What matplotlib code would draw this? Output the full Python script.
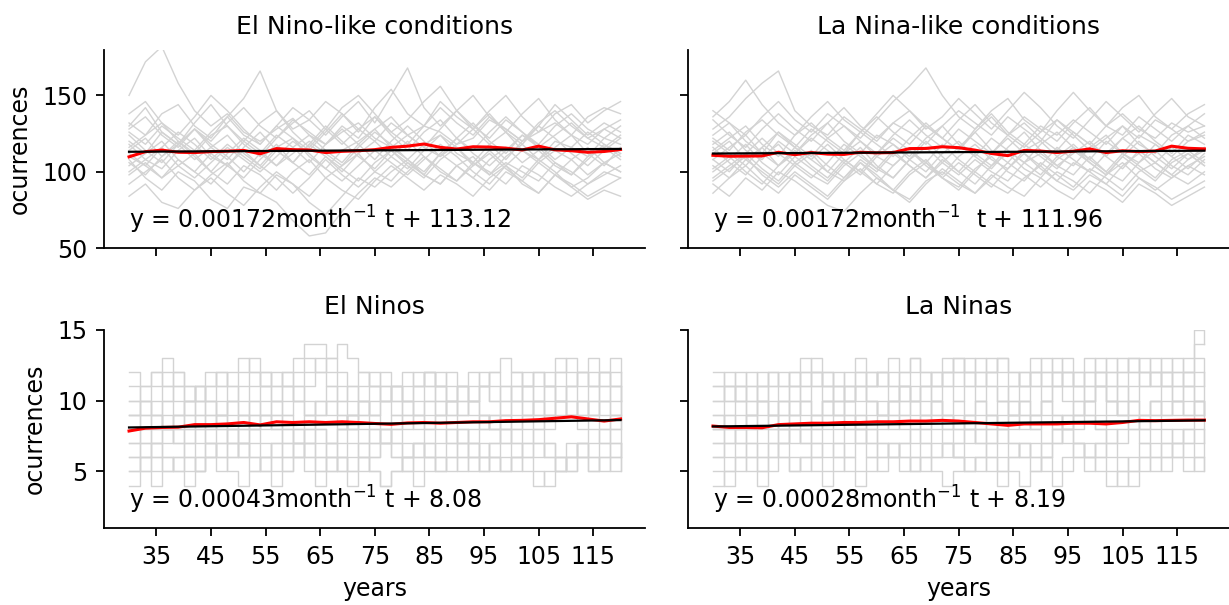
import matplotlib
matplotlib.use("Agg")
import matplotlib.pyplot as plt
import matplotlib.transforms as mtransforms
import numpy as np

plt.rcParams['font.family'] = ['DejaVu Sans']

# x positions (years) for sampled series
years3 = np.arange(30, 121, 3)   # 31 points, top panels + red means
years2 = np.arange(30, 121, 2)   # 46 points, event counts

# ---- El Nino-like conditions: ensemble members (grey) ----
elnino_like_members = [
    [150, 172, 182, 158, 140, 130, 138, 126, 120, 128, 135, 124, 118, 126, 132, 122, 116, 124, 130, 126, 118, 122, 134, 128, 120, 126, 132, 124, 118, 128, 122],
    [120, 112, 126, 118, 108, 116, 124, 112, 104, 116, 122, 110, 102, 114, 120, 128, 116, 108, 118, 124, 112, 106, 118, 126, 114, 108, 120, 116, 110, 122, 118],
    [98, 106, 96, 104, 112, 100, 92, 104, 98, 88, 100, 108, 96, 104, 112, 100, 94, 106, 98, 92, 104, 110, 98, 106, 100, 94, 106, 100, 92, 98, 104],
    [132, 124, 138, 144, 130, 122, 136, 148, 166, 140, 128, 134, 146, 138, 126, 142, 154, 138, 130, 146, 136, 128, 140, 150, 136, 126, 138, 144, 132, 140, 146],
    [108, 96, 88, 100, 94, 82, 76, 90, 86, 98, 92, 80, 72, 84, 96, 90, 100, 108, 98, 92, 104, 96, 88, 100, 94, 86, 98, 92, 84, 90, 96],
    [114, 122, 110, 118, 128, 116, 108, 120, 112, 104, 116, 124, 114, 106, 118, 128, 136, 124, 116, 110, 122, 132, 120, 112, 124, 118, 108, 116, 126, 118, 110],
    [126, 118, 130, 122, 114, 126, 136, 124, 118, 130, 122, 114, 126, 138, 128, 120, 132, 124, 116, 128, 140, 130, 122, 134, 126, 118, 130, 138, 128, 122, 130],
    [92, 100, 108, 96, 88, 98, 106, 94, 86, 80, 68, 58, 60, 74, 86, 96, 90, 100, 110, 102, 94, 106, 100, 92, 104, 98, 90, 84, 92, 100, 96],
    [138, 146, 132, 124, 136, 150, 140, 128, 118, 130, 142, 134, 124, 136, 146, 132, 150, 168, 142, 130, 140, 150, 136, 126, 138, 148, 134, 124, 136, 142, 138],
    [104, 112, 120, 108, 100, 112, 104, 96, 108, 118, 106, 98, 110, 102, 94, 106, 114, 104, 96, 108, 116, 104, 112, 102, 94, 106, 114, 108, 98, 106, 112],
    [118, 108, 102, 114, 122, 110, 104, 116, 126, 114, 106, 118, 110, 100, 112, 120, 110, 102, 114, 124, 116, 106, 98, 110, 118, 108, 116, 124, 112, 104, 116],
    [84, 92, 80, 76, 88, 96, 86, 78, 90, 100, 92, 84, 96, 88, 82, 94, 104, 96, 88, 98, 92, 84, 96, 104, 92, 86, 98, 90, 82, 88, 84],
    [128, 136, 124, 116, 128, 120, 132, 142, 130, 122, 134, 126, 118, 130, 122, 136, 126, 118, 130, 142, 132, 124, 136, 128, 120, 132, 140, 130, 122, 128, 134],
    [110, 104, 116, 126, 118, 108, 118, 110, 102, 114, 106, 118, 130, 120, 110, 102, 114, 106, 98, 112, 104, 96, 108, 116, 106, 114, 104, 98, 110, 116, 108],
    [116, 124, 132, 120, 112, 124, 130, 118, 110, 122, 132, 140, 128, 118, 128, 136, 124, 114, 126, 134, 122, 114, 126, 136, 126, 116, 124, 132, 122, 116, 124],
    [100, 108, 116, 104, 96, 106, 116, 108, 100, 110, 120, 112, 102, 94, 104, 114, 106, 98, 108, 118, 110, 100, 92, 104, 114, 106, 98, 108, 116, 106, 100],
    [124, 114, 106, 118, 128, 118, 110, 100, 112, 124, 116, 106, 118, 128, 118, 108, 120, 130, 120, 110, 118, 128, 118, 108, 120, 130, 122, 112, 104, 114, 122],
    [106, 98, 110, 120, 110, 100, 112, 122, 114, 104, 112, 120, 112, 104, 116, 126, 118, 108, 100, 112, 122, 112, 104, 114, 124, 116, 106, 98, 108, 118, 112],
    [130, 142, 126, 118, 132, 144, 130, 120, 132, 140, 126, 116, 128, 142, 150, 138, 126, 134, 146, 156, 140, 128, 138, 126, 118, 130, 144, 134, 124, 132, 126],
    [112, 104, 96, 108, 100, 92, 104, 114, 104, 96, 86, 96, 108, 98, 90, 100, 110, 120, 110, 100, 94, 104, 114, 104, 96, 108, 100, 90, 96, 106, 100],
]

# ---- La Nina-like conditions ----
lanina_like_members = [
    [128, 136, 148, 158, 166, 140, 130, 124, 136, 128, 120, 132, 126, 118, 130, 140, 132, 124, 136, 128, 120, 134, 126, 118, 130, 138, 128, 122, 132, 126, 130],
    [104, 96, 108, 100, 92, 104, 112, 100, 94, 106, 98, 88, 100, 108, 96, 90, 102, 110, 100, 94, 106, 98, 90, 102, 96, 88, 100, 106, 98, 92, 100],
    [118, 126, 114, 108, 120, 112, 124, 132, 120, 112, 124, 118, 110, 122, 130, 118, 110, 122, 114, 106, 118, 126, 116, 108, 120, 112, 124, 118, 110, 120, 124],
    [92, 84, 96, 88, 100, 94, 86, 78, 74, 86, 96, 88, 82, 94, 100, 92, 86, 98, 90, 84, 96, 88, 82, 94, 88, 80, 92, 86, 78, 84, 90],
    [140, 132, 124, 136, 146, 134, 126, 138, 130, 122, 134, 146, 156, 168, 150, 136, 128, 140, 148, 134, 126, 140, 152, 140, 130, 142, 150, 136, 128, 138, 144],
    [112, 120, 108, 116, 104, 112, 122, 114, 106, 98, 110, 118, 108, 100, 112, 120, 110, 102, 114, 106, 98, 110, 118, 108, 100, 112, 104, 96, 108, 114, 106],
    [100, 108, 118, 106, 98, 110, 102, 94, 106, 116, 104, 96, 108, 120, 110, 100, 112, 104, 116, 126, 114, 104, 112, 120, 110, 102, 114, 106, 98, 108, 116],
    [122, 114, 126, 134, 124, 116, 128, 120, 112, 126, 136, 126, 118, 130, 122, 114, 128, 138, 126, 118, 130, 124, 134, 126, 118, 130, 122, 134, 128, 120, 126],
    [86, 96, 104, 94, 86, 98, 90, 82, 94, 102, 92, 86, 98, 106, 96, 88, 100, 92, 86, 96, 104, 94, 88, 98, 92, 84, 96, 90, 82, 88, 94],
    [134, 124, 116, 128, 138, 128, 120, 132, 142, 130, 122, 132, 140, 130, 122, 134, 144, 132, 124, 136, 128, 120, 132, 142, 130, 124, 136, 128, 120, 130, 138],
    [108, 116, 124, 112, 104, 116, 108, 100, 112, 120, 110, 104, 114, 106, 98, 110, 118, 108, 102, 114, 120, 110, 104, 116, 124, 112, 106, 118, 110, 102, 112],
    [116, 106, 98, 110, 118, 106, 98, 92, 104, 112, 102, 96, 108, 116, 106, 98, 108, 100, 94, 106, 112, 104, 98, 110, 100, 94, 106, 114, 104, 98, 108],
    [96, 104, 112, 102, 94, 106, 114, 104, 96, 108, 100, 112, 104, 96, 108, 100, 92, 104, 112, 102, 96, 108, 116, 106, 98, 110, 102, 94, 106, 112, 104],
    [124, 132, 120, 112, 126, 118, 110, 122, 130, 120, 112, 124, 134, 124, 116, 128, 120, 112, 124, 132, 122, 114, 126, 118, 110, 122, 130, 120, 112, 124, 118],
    [114, 122, 130, 118, 110, 124, 132, 122, 114, 126, 118, 110, 122, 132, 122, 114, 126, 136, 124, 116, 126, 134, 124, 114, 122, 130, 118, 112, 124, 130, 122],
    [102, 110, 100, 92, 104, 114, 104, 96, 108, 100, 92, 104, 114, 104, 96, 106, 98, 90, 102, 112, 102, 94, 106, 100, 92, 104, 112, 102, 96, 104, 110],
    [120, 112, 104, 116, 126, 116, 108, 118, 108, 100, 112, 122, 114, 106, 118, 108, 100, 112, 122, 112, 104, 116, 108, 100, 112, 122, 114, 106, 116, 108, 114],
    [108, 100, 112, 122, 112, 104, 96, 106, 118, 110, 102, 114, 104, 96, 106, 116, 126, 114, 106, 118, 110, 102, 114, 106, 98, 110, 120, 110, 102, 112, 104],
    [136, 146, 160, 144, 132, 124, 136, 146, 134, 126, 138, 150, 140, 128, 136, 148, 138, 128, 140, 152, 142, 130, 122, 134, 146, 136, 126, 138, 148, 136, 130],
    [94, 102, 110, 98, 90, 100, 92, 84, 96, 106, 96, 88, 80, 92, 102, 94, 86, 96, 106, 98, 90, 100, 94, 86, 98, 106, 96, 88, 96, 104, 98],
]

# ---- El Nino event counts ----
elninos_members = [
    [8, 9, 8, 10, 9, 8, 9, 10, 11, 10, 9, 10, 11, 10, 9, 8, 9, 10, 9, 8, 9, 10, 11, 10, 9, 8, 9, 10, 9, 10, 11, 10, 9, 8, 9, 10, 11, 10, 9, 10, 11, 12, 11, 10, 9, 10],
    [6, 7, 6, 5, 6, 7, 8, 7, 6, 7, 6, 5, 6, 7, 6, 7, 8, 7, 6, 5, 6, 7, 6, 7, 8, 7, 6, 7, 8, 7, 6, 5, 6, 7, 8, 7, 6, 7, 6, 5, 6, 7, 8, 7, 6, 7],
    [12, 11, 12, 13, 12, 11, 10, 11, 12, 11, 12, 13, 12, 11, 12, 13, 14, 14, 13, 14, 13, 12, 11, 12, 11, 10, 11, 12, 11, 12, 11, 10, 11, 12, 13, 12, 11, 12, 11, 12, 13, 12, 11, 12, 13, 12],
    [4, 5, 4, 5, 6, 5, 6, 7, 6, 5, 4, 5, 6, 5, 6, 7, 6, 5, 6, 5, 4, 5, 6, 7, 6, 5, 4, 5, 6, 5, 6, 7, 6, 5, 6, 5, 6, 5, 4, 5, 6, 7, 6, 5, 6, 5],
    [10, 9, 10, 11, 10, 9, 8, 9, 10, 9, 8, 9, 10, 9, 10, 11, 10, 9, 10, 9, 8, 9, 10, 11, 10, 9, 10, 11, 10, 9, 10, 9, 8, 9, 10, 11, 10, 9, 10, 11, 10, 9, 10, 11, 10, 11],
    [7, 8, 9, 8, 7, 8, 7, 8, 9, 8, 7, 8, 9, 8, 7, 6, 7, 8, 7, 8, 9, 8, 7, 8, 7, 6, 7, 8, 9, 8, 7, 8, 9, 8, 7, 8, 9, 8, 9, 10, 9, 8, 9, 8, 9, 8],
    [9, 10, 11, 12, 11, 10, 11, 12, 11, 12, 13, 12, 11, 12, 11, 10, 11, 12, 13, 12, 11, 12, 11, 10, 11, 12, 11, 12, 11, 10, 11, 12, 11, 12, 11, 12, 11, 10, 11, 12, 11, 12, 13, 12, 11, 12],
    [5, 6, 7, 6, 5, 6, 5, 6, 7, 8, 7, 6, 5, 4, 5, 6, 5, 4, 5, 6, 7, 6, 5, 4, 5, 6, 7, 6, 5, 6, 5, 6, 7, 6, 5, 6, 7, 6, 7, 6, 5, 6, 5, 6, 7, 6],
    [8, 7, 8, 9, 8, 9, 10, 9, 8, 7, 8, 9, 8, 9, 8, 7, 8, 9, 10, 9, 8, 9, 8, 7, 8, 9, 8, 9, 10, 9, 8, 7, 8, 9, 8, 9, 10, 9, 8, 9, 10, 9, 10, 9, 8, 9],
    [11, 10, 9, 10, 11, 10, 11, 10, 9, 10, 11, 12, 11, 10, 11, 12, 13, 12, 11, 10, 11, 10, 9, 10, 11, 10, 11, 12, 11, 10, 11, 10, 11, 10, 9, 10, 11, 12, 11, 10, 11, 10, 11, 12, 11, 10],
    [6, 5, 6, 7, 8, 7, 6, 7, 8, 7, 6, 7, 6, 7, 8, 7, 6, 5, 6, 7, 8, 7, 8, 7, 6, 5, 6, 7, 6, 7, 8, 7, 6, 7, 8, 7, 8, 7, 6, 5, 6, 7, 6, 7, 8, 7],
    [9, 8, 7, 8, 9, 10, 9, 8, 9, 8, 9, 10, 9, 8, 9, 10, 9, 8, 7, 8, 9, 10, 9, 8, 9, 10, 9, 8, 9, 10, 9, 10, 9, 8, 9, 8, 9, 10, 9, 10, 9, 10, 9, 10, 9, 10],
    [10, 11, 12, 11, 12, 11, 10, 11, 12, 11, 10, 11, 12, 11, 12, 11, 12, 13, 12, 11, 10, 11, 12, 11, 10, 11, 12, 11, 12, 11, 10, 11, 12, 11, 10, 11, 12, 11, 12, 13, 12, 11, 12, 11, 12, 11],
    [7, 6, 7, 8, 7, 6, 5, 6, 7, 6, 7, 8, 7, 6, 7, 8, 7, 6, 7, 6, 5, 6, 7, 8, 7, 6, 7, 6, 7, 8, 7, 6, 5, 6, 7, 6, 7, 8, 7, 6, 7, 6, 7, 8, 7, 6],
    [9, 10, 9, 8, 9, 10, 11, 10, 9, 10, 9, 8, 9, 10, 11, 10, 9, 10, 11, 10, 9, 10, 9, 10, 11, 10, 9, 10, 11, 10, 9, 10, 11, 10, 11, 10, 9, 10, 11, 10, 9, 10, 9, 10, 11, 10],
    [5, 6, 5, 6, 5, 4, 5, 6, 5, 6, 7, 6, 5, 6, 5, 6, 7, 6, 5, 6, 5, 6, 5, 4, 5, 6, 5, 6, 5, 6, 7, 6, 5, 6, 5, 6, 5, 4, 5, 6, 5, 6, 5, 6, 5, 6],
]

# ---- La Nina event counts ----
laninas_members = [
    [8, 9, 10, 9, 8, 9, 10, 9, 10, 11, 10, 9, 10, 9, 8, 9, 10, 11, 10, 9, 10, 9, 10, 11, 10, 9, 8, 9, 10, 9, 10, 11, 10, 9, 10, 11, 10, 9, 10, 9, 10, 11, 10, 11, 10, 9],
    [6, 5, 6, 7, 6, 7, 6, 5, 6, 7, 8, 7, 6, 7, 6, 5, 6, 7, 6, 7, 8, 7, 6, 5, 6, 7, 6, 7, 6, 5, 6, 7, 8, 7, 6, 7, 6, 5, 6, 7, 8, 7, 6, 7, 6, 7],
    [12, 11, 10, 11, 12, 11, 12, 11, 12, 13, 12, 11, 12, 13, 12, 11, 12, 11, 10, 11, 12, 13, 12, 13, 12, 13, 12, 11, 12, 11, 12, 13, 12, 11, 12, 13, 12, 11, 12, 13, 12, 13, 12, 13, 14, 14],
    [4, 5, 6, 5, 4, 5, 6, 5, 6, 5, 4, 5, 6, 5, 6, 7, 6, 5, 6, 5, 6, 7, 6, 5, 6, 5, 4, 5, 4, 5, 6, 5, 6, 7, 6, 5, 4, 5, 4, 5, 6, 5, 6, 5, 6, 5],
    [10, 11, 10, 9, 10, 9, 10, 11, 10, 9, 10, 11, 10, 11, 10, 9, 10, 11, 12, 11, 10, 11, 10, 9, 10, 11, 10, 9, 10, 11, 10, 11, 12, 11, 10, 11, 10, 11, 10, 11, 12, 11, 10, 11, 10, 11],
    [7, 8, 7, 8, 9, 8, 7, 8, 7, 8, 9, 8, 9, 8, 7, 8, 9, 8, 7, 8, 9, 8, 9, 8, 7, 8, 7, 8, 9, 8, 7, 8, 9, 8, 9, 8, 7, 8, 9, 8, 9, 8, 7, 8, 9, 8],
    [11, 12, 11, 10, 11, 12, 11, 12, 11, 12, 11, 10, 11, 12, 11, 12, 11, 12, 13, 12, 11, 12, 13, 12, 11, 12, 13, 12, 11, 12, 13, 12, 11, 12, 13, 12, 11, 12, 13, 12, 13, 12, 11, 12, 13, 12],
    [5, 4, 5, 6, 5, 6, 7, 6, 5, 6, 5, 6, 5, 4, 5, 6, 7, 6, 5, 6, 5, 4, 5, 6, 5, 6, 5, 6, 7, 6, 5, 4, 5, 6, 5, 6, 5, 4, 5, 6, 5, 6, 7, 6, 5, 6],
    [9, 8, 9, 8, 7, 8, 9, 10, 9, 8, 9, 10, 9, 8, 9, 10, 9, 10, 9, 8, 9, 8, 7, 8, 9, 8, 9, 10, 9, 8, 9, 8, 9, 10, 9, 8, 9, 10, 9, 8, 9, 10, 9, 10, 9, 10],
    [8, 7, 8, 9, 10, 9, 8, 9, 10, 9, 10, 9, 10, 11, 10, 9, 10, 9, 8, 9, 10, 9, 8, 9, 8, 9, 10, 9, 8, 9, 10, 9, 8, 9, 10, 11, 10, 9, 10, 9, 10, 9, 10, 9, 10, 9],
    [6, 7, 8, 7, 6, 7, 8, 7, 8, 7, 6, 7, 8, 7, 8, 7, 6, 7, 8, 7, 6, 7, 6, 7, 8, 7, 8, 7, 6, 7, 6, 7, 8, 7, 6, 7, 8, 7, 8, 7, 6, 7, 8, 7, 8, 7],
    [10, 11, 12, 11, 10, 11, 10, 11, 12, 11, 12, 11, 10, 11, 12, 11, 10, 11, 10, 11, 12, 11, 12, 11, 12, 11, 10, 11, 12, 13, 12, 11, 12, 11, 12, 11, 12, 13, 12, 11, 12, 11, 12, 11, 12, 11],
    [9, 10, 11, 10, 11, 10, 9, 10, 11, 12, 11, 10, 11, 10, 11, 12, 11, 10, 11, 10, 11, 12, 13, 12, 11, 12, 11, 10, 11, 12, 11, 12, 11, 10, 11, 12, 11, 10, 11, 12, 11, 12, 11, 12, 11, 12],
    [7, 6, 7, 6, 5, 6, 7, 8, 7, 6, 7, 6, 7, 8, 7, 6, 7, 6, 5, 6, 7, 6, 7, 8, 7, 6, 5, 6, 7, 6, 7, 8, 7, 6, 7, 6, 7, 6, 5, 6, 7, 6, 7, 8, 7, 8],
    [8, 9, 8, 9, 10, 9, 8, 9, 8, 9, 10, 9, 8, 9, 10, 9, 8, 9, 10, 9, 10, 9, 8, 9, 10, 9, 8, 9, 10, 9, 10, 9, 8, 9, 10, 9, 10, 9, 8, 9, 10, 9, 10, 9, 10, 9],
    [11, 10, 11, 12, 11, 12, 11, 12, 13, 12, 11, 12, 11, 12, 11, 12, 13, 12, 13, 12, 11, 12, 11, 12, 13, 12, 13, 12, 11, 12, 11, 12, 13, 12, 11, 12, 13, 12, 13, 12, 11, 12, 13, 12, 15, 14],
]

# ---- ensemble means (red) ----
elnino_like_mean = [109.8, 113.2, 114.2, 112.8, 112.6, 113.2, 113.5, 114.0, 111.8, 115.2, 114.5, 114.3, 112.6, 113.4, 113.8, 114.5,
                    116.0, 116.8, 118.2, 116.0, 114.9, 116.4, 116.2, 115.5, 114.3, 116.8, 114.4, 113.8, 112.8, 113.3, 114.6]
lanina_like_mean = [110.8, 110.2, 110.3, 110.4, 112.8, 111.2, 112.6, 111.6, 111.4, 112.8, 112.4, 112.6, 115.2, 115.3, 116.4, 115.8,
                    114.2, 112.0, 110.6, 114.0, 113.6, 112.6, 113.5, 115.0, 112.6, 113.8, 113.2, 113.6, 116.8, 115.4, 115.0]
elninos_mean = [7.85, 8.05, 8.10, 8.12, 8.30, 8.30, 8.35, 8.45, 8.28, 8.50, 8.45, 8.50, 8.45, 8.50, 8.45, 8.38,
                8.32, 8.42, 8.45, 8.40, 8.45, 8.50, 8.50, 8.58, 8.60, 8.65, 8.75, 8.85, 8.70, 8.55, 8.70]
laninas_mean = [8.20, 8.10, 8.10, 8.08, 8.30, 8.35, 8.40, 8.40, 8.45, 8.45, 8.50, 8.50, 8.55, 8.55, 8.60, 8.55,
                8.45, 8.35, 8.25, 8.35, 8.35, 8.35, 8.40, 8.40, 8.35, 8.45, 8.60, 8.58, 8.60, 8.62, 8.62]

# linear fits (start / end values at x = 30 and x = 120)
fit_x = [30, 120]
elnino_like_fit = [113.12, 114.98]
lanina_like_fit = [111.96, 113.82]
elninos_fit = [8.10, 8.62]
laninas_fit = [8.17, 8.60]

titles = ['El Nino-like conditions', 'La Nina-like conditions', 'El Ninos', 'La Ninas']
equations = [r'y = 0.00172month$^{-1}$ t + 113.12',
             r'y = 0.00172month$^{-1}$  t + 111.96',
             r'y = 0.00043month$^{-1}$ t + 8.08',
             r'y = 0.00028month$^{-1}$ t + 8.19']
xticks = [35, 45, 55, 65, 75, 85, 95, 105, 115]

panels = [
    (elnino_like_members, elnino_like_mean, elnino_like_fit, years3, None),
    (lanina_like_members, lanina_like_mean, lanina_like_fit, years3, None),
    (elninos_members, elninos_mean, elninos_fit, years2, 'steps-post'),
    (laninas_members, laninas_mean, laninas_fit, years2, 'steps-post'),
]

fig, axes = plt.subplots(2, 2, figsize=(12.29, 6.05), dpi=100, sharex=True, sharey='row')
fig.subplots_adjust(left=0.085, right=1.0, top=0.918, bottom=0.127, wspace=0.08, hspace=0.41)

for i, (ax, (members, mean, fit, xs, ds)) in enumerate(zip(axes.flat, panels)):
    for m in members:
        if ds:
            ax.plot(xs, m, color='lightgray', lw=1, drawstyle=ds)
        else:
            ax.plot(xs, m, color='lightgray', lw=1)
    ax.plot(years3, mean, color='red', lw=2.2)
    ax.plot(fit_x, fit, color='black', lw=1.6)
    ax.set_title(titles[i], fontsize=18, pad=11)
    ax.spines['top'].set_visible(False)
    ax.spines['right'].set_visible(False)
    ax.spines['left'].set_linewidth(1.3)
    ax.spines['bottom'].set_linewidth(1.3)
    ax.tick_params(labelsize=17, length=6, width=1.3, pad=6)
    trans = mtransforms.blended_transform_factory(ax.transData, ax.transAxes)
    ax.text(30, 0.1, equations[i], transform=trans, fontsize=17)

axes[0, 0].set_ylim(50, 180)
axes[0, 0].set_yticks([50, 100, 150])
axes[1, 0].set_ylim(1, 15)
axes[1, 0].set_yticks([5, 10, 15])
axes[1, 0].set_xticks(xticks)
axes[0, 0].set_ylabel('ocurrences', fontsize=17, labelpad=8)
axes[1, 0].set_ylabel('ocurrences', fontsize=17, labelpad=8)
axes[1, 0].set_xlabel('years', fontsize=17, labelpad=6)
axes[1, 1].set_xlabel('years', fontsize=17, labelpad=6)

fig.savefig('out.png', dpi=100)
